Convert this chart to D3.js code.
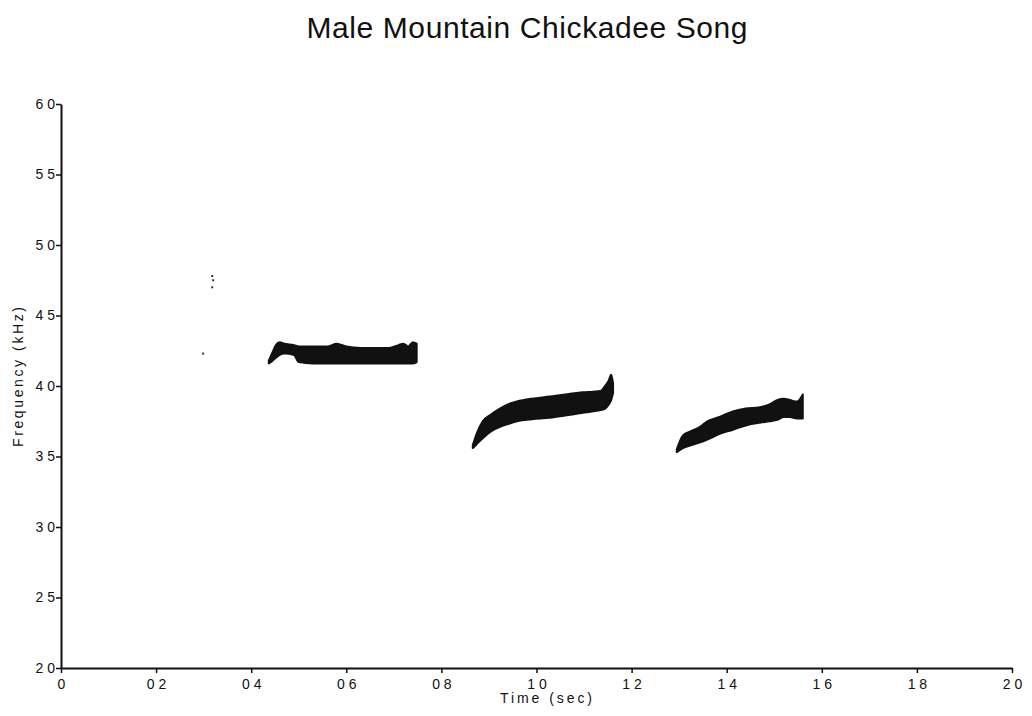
<!DOCTYPE html>
<html>
<head>
<meta charset="utf-8">
<script src="https://cdn.jsdelivr.net/npm/d3@7"></script>
<style>
  body { margin: 0; background: #fff; }
  text { font-family: "Liberation Sans", Arial, sans-serif; fill: #111; }
</style>
</head>
<body>
<div id="chart"></div>
<script>
// tick values and their printed labels (scan shows no decimal point)
const xTicks = [0, 0.2, 0.4, 0.6, 0.8, 1.0, 1.2, 1.4, 1.6, 1.8, 2.0];
const xTickLabels = ["0", "0 2", "0 4", "0 6", "0 8", "1 0", "1 2", "1 4", "1 6", "1 8", "2 0"];
const yTicks = [2.0, 2.5, 3.0, 3.5, 4.0, 4.5, 5.0, 5.5, 6.0];
const yTickLabels = ["2 0", "2 5", "3 0", "3 5", "4 0", "4 5", "5 0", "5 5", "6 0"];

// syllable 1: time (s), lower and upper frequency (kHz)
const syl1Time = [0.437, 0.445, 0.452, 0.46, 0.47, 0.49, 0.50, 0.53, 0.56, 0.58, 0.60, 0.63, 0.66, 0.69, 0.71, 0.72, 0.73, 0.74, 0.748];
const syl1Low  = [4.16, 4.18, 4.20, 4.22, 4.23, 4.22, 4.17, 4.16, 4.16, 4.16, 4.16, 4.16, 4.16, 4.16, 4.16, 4.16, 4.16, 4.16, 4.17];
const syl1High = [4.18, 4.24, 4.29, 4.31, 4.30, 4.29, 4.28, 4.28, 4.28, 4.30, 4.28, 4.27, 4.27, 4.27, 4.29, 4.30, 4.28, 4.31, 4.30];

// syllable 2
const syl2Time = [0.866, 0.875, 0.887, 0.905, 0.923, 0.94, 0.959, 0.99, 1.028, 1.06, 1.098, 1.119, 1.135, 1.144, 1.152, 1.157, 1.161];
const syl2Low  = [3.56, 3.59, 3.63, 3.68, 3.71, 3.73, 3.75, 3.765, 3.775, 3.79, 3.81, 3.82, 3.83, 3.84, 3.87, 3.90, 3.95];
const syl2High = [3.58, 3.67, 3.75, 3.80, 3.84, 3.87, 3.89, 3.91, 3.925, 3.94, 3.955, 3.96, 3.965, 4.00, 4.04, 4.08, 4.02];

// syllable 3
const syl3Time = [1.295, 1.308, 1.325, 1.344, 1.359, 1.385, 1.413, 1.44, 1.47, 1.49, 1.506, 1.52, 1.533, 1.548, 1.56];
const syl3Low  = [3.53, 3.56, 3.58, 3.60, 3.62, 3.66, 3.69, 3.72, 3.74, 3.75, 3.76, 3.78, 3.78, 3.77, 3.77];
const syl3High = [3.55, 3.65, 3.68, 3.71, 3.75, 3.78, 3.82, 3.84, 3.85, 3.87, 3.90, 3.91, 3.90, 3.89, 3.94];

// isolated specks
const speckTime = [0.318, 0.320, 0.318, 0.299];
const speckFreq = [4.78, 4.75, 4.70, 4.23];

const width = 1032, height = 716;
const margin = {top: 104, right: 20, bottom: 48, left: 61};

const svg = d3.select("#chart").append("svg")
    .attr("width", width)
    .attr("height", height);

const x = d3.scaleLinear().domain([0, 2]).range([margin.left, 1012]);
const y = d3.scaleLinear().domain([2, 6]).range([668, margin.top]);

// title
svg.append("text")
    .attr("x", 527)
    .attr("y", 38)
    .attr("text-anchor", "middle")
    .style("font-size", "30px")
    .attr("textLength", 441)
    .text("Male Mountain Chickadee Song");

// syllables
const area = d3.area()
    .x(d => x(d.t))
    .y0(d => y(d.lo))
    .y1(d => y(d.hi))
    .curve(d3.curveMonotoneX);

const syllables = [
    [syl1Time, syl1Low, syl1High],
    [syl2Time, syl2Low, syl2High],
    [syl3Time, syl3Low, syl3High]
].map(s => s[0].map((t, i) => ({t: t, lo: s[1][i], hi: s[2][i]})));

svg.selectAll(".syllable")
    .data(syllables)
    .enter()
    .append("path")
    .classed("syllable", true)
    .attr("d", area)
    .attr("fill", "#111")
    .attr("stroke", "#111")
    .attr("stroke-width", 2)
    .attr("stroke-linejoin", "round");

svg.selectAll(".speck")
    .data(speckTime.map((t, i) => ({t: t, f: speckFreq[i]})))
    .enter()
    .append("rect")
    .classed("speck", true)
    .attr("x", d => x(d.t) - 1)
    .attr("y", d => y(d.f) - 1)
    .attr("width", 2)
    .attr("height", 2)
    .attr("fill", "#333");

// axes
const xAxis = svg.append("g")
    .attr("transform", "translate(0,668)")
    .call(d3.axisBottom(x).tickValues(xTicks).tickSize(5).tickSizeOuter(0)
        .tickFormat((d, i) => xTickLabels[i]));

const yAxis = svg.append("g")
    .attr("transform", "translate(" + margin.left + ",0)")
    .call(d3.axisLeft(y).tickValues(yTicks).tickSize(5).tickSizeOuter(0)
        .tickFormat((d, i) => yTickLabels[i]));

[xAxis, yAxis].forEach(function (g) {
    g.select(".domain").attr("stroke", "#111").attr("stroke-width", 2);
    g.selectAll(".tick line").attr("stroke", "#111").attr("stroke-width", 1.5);
    g.selectAll(".tick text")
        .style("font-size", "14px")
        .style("font-family", "'Liberation Sans', Arial, sans-serif")
        .attr("fill", "#111");
});
xAxis.selectAll(".tick text").attr("dy", "0.9em");
yAxis.selectAll(".tick text").attr("x", -6);

// axis labels
svg.append("text")
    .attr("x", 546)
    .attr("y", 703)
    .attr("text-anchor", "middle")
    .style("font-size", "14px")
    .attr("textLength", 92)
    .text("Time (sec)");

svg.append("text")
    .attr("transform", "translate(23,377) rotate(-90)")
    .attr("text-anchor", "middle")
    .style("font-size", "14px")
    .attr("textLength", 140)
    .text("Frequency (kHz)");
</script>
</body>
</html>
